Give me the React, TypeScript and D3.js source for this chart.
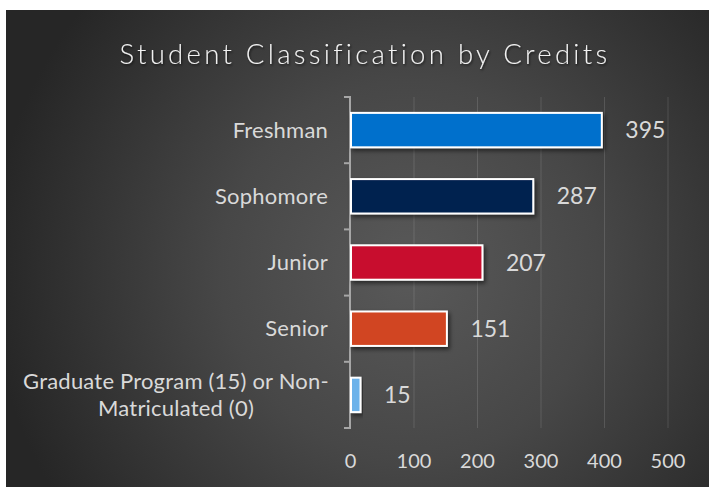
import React from "react";
import * as d3 from "d3";

const categories = [
  "Freshman",
  "Sophomore",
  "Junior",
  "Senior",
  "Graduate Program (15) or Non-Matriculated (0)",
];
const categoryLines = [
  ["Freshman"],
  ["Sophomore"],
  ["Junior"],
  ["Senior"],
  ["Graduate Program (15) or Non-", "Matriculated (0)"],
];
const values = [395, 287, 207, 151, 15];
const barColors = ["#0070CC", "#05244F", "#C8102E", "#D14520", "#6CB2EA"];
const xTicks = [0, 100, 200, 300, 400, 500];
const title = "Student Classification by Credits";

const W = 709;
const H = 487;
const FONT = "Lato, 'Open Sans', sans-serif";

export default function App() {
  const x = d3.scaleLinear().domain([0, 500]).range([350.5, 668]);
  const y = d3
    .scaleBand<string>()
    .domain(categories)
    .range([97, 428])
    .paddingInner(0.48)
    .paddingOuter(0.24);
  const step = y.step();
  const boundaries = d3.range(categories.length + 1).map((i) => 97 + i * step);

  return (
    <div style={{ position: "fixed", left: 0, top: 0, width: W, height: H, background: "#fff" }}>
      <svg width={W} height={H} style={{ display: "block" }}>
        <defs>
          <radialGradient id="bg" cx="410" cy="270" r="420" gradientUnits="userSpaceOnUse">
            <stop offset="0%" stopColor="#595959" />
            <stop offset="45%" stopColor="#474747" />
            <stop offset="100%" stopColor="#262626" />
          </radialGradient>
          <filter id="shadow" x="-10%" y="-30%" width="130%" height="180%">
            <feDropShadow dx="2" dy="2.5" stdDeviation="2" floodColor="#000" floodOpacity="0.55" />
          </filter>
          <filter id="tshadow" x="-5%" y="-30%" width="110%" height="180%">
            <feDropShadow dx="1" dy="1.5" stdDeviation="1.2" floodColor="#000" floodOpacity="0.6" />
          </filter>
        </defs>
        <rect x={6} y={10} width={W - 6} height={H - 10} fill="url(#bg)" />

        <text
          x={365}
          y={64}
          textAnchor="middle"
          fill="#F2F2F2"
          fontFamily={FONT}
          fontSize={27.5}
          fontWeight={300}
          letterSpacing={3.3}
          filter="url(#tshadow)"
        >
          {title}
        </text>

        {/* gridlines */}
        {xTicks.slice(1).map((t) => (
          <line
            key={t}
            x1={x(t)}
            x2={x(t)}
            y1={97}
            y2={428}
            stroke="#FFFFFF"
            strokeOpacity={0.13}
            strokeWidth={1}
          />
        ))}

        {/* category axis */}
        <line x1={350} x2={350} y1={97} y2={428} stroke="#A6A6A6" strokeWidth={2} />
        {boundaries.map((b, i) => (
          <line key={i} x1={344} x2={351} y1={b} y2={b} stroke="#A6A6A6" strokeWidth={2} />
        ))}

        {/* bars */}
        {values.map((v, i) => (
          <rect
            key={i}
            x={x(0) + 0.5}
            y={y(categories[i])!}
            width={x(v) - x(0)}
            height={y.bandwidth()}
            fill={barColors[i]}
            stroke="#FFFFFF"
            strokeWidth={2}
            filter="url(#shadow)"
          />
        ))}

        {/* value labels */}
        {values.map((v, i) => (
          <text
            key={i}
            x={x(v) + 24}
            y={y(categories[i])! + y.bandwidth() / 2 + 8}
            fill="#D9D9D9"
            fontFamily={FONT}
            fontSize={23}
          >
            {v}
          </text>
        ))}

        {/* category labels */}
        {categoryLines.map((lines, i) => {
          const cy = y(categories[i])! + y.bandwidth() / 2;
          if (lines.length === 1) {
            return (
              <text
                key={i}
                x={328}
                y={cy + 7.5}
                textAnchor="end"
                fill="#D9D9D9"
                fontFamily={FONT}
                fontSize={22}
                letterSpacing={0.2}
              >
                {lines[0]}
              </text>
            );
          }
          return (
            <text
              key={i}
              x={176}
              textAnchor="middle"
              fill="#D9D9D9"
              fontFamily={FONT}
              fontSize={22}
              letterSpacing={0.2}
            >
              {lines.map((l, j) => (
                <tspan key={j} x={176} y={cy + 7.5 + (j - (lines.length - 1) / 2) * 27}>
                  {l}
                </tspan>
              ))}
            </text>
          );
        })}

        {/* x tick labels */}
        {xTicks.map((t) => (
          <text
            key={t}
            x={x(t)}
            y={468}
            textAnchor="middle"
            fill="#D9D9D9"
            fontFamily={FONT}
            fontSize={20}
          >
            {t}
          </text>
        ))}
      </svg>
    </div>
  );
}
